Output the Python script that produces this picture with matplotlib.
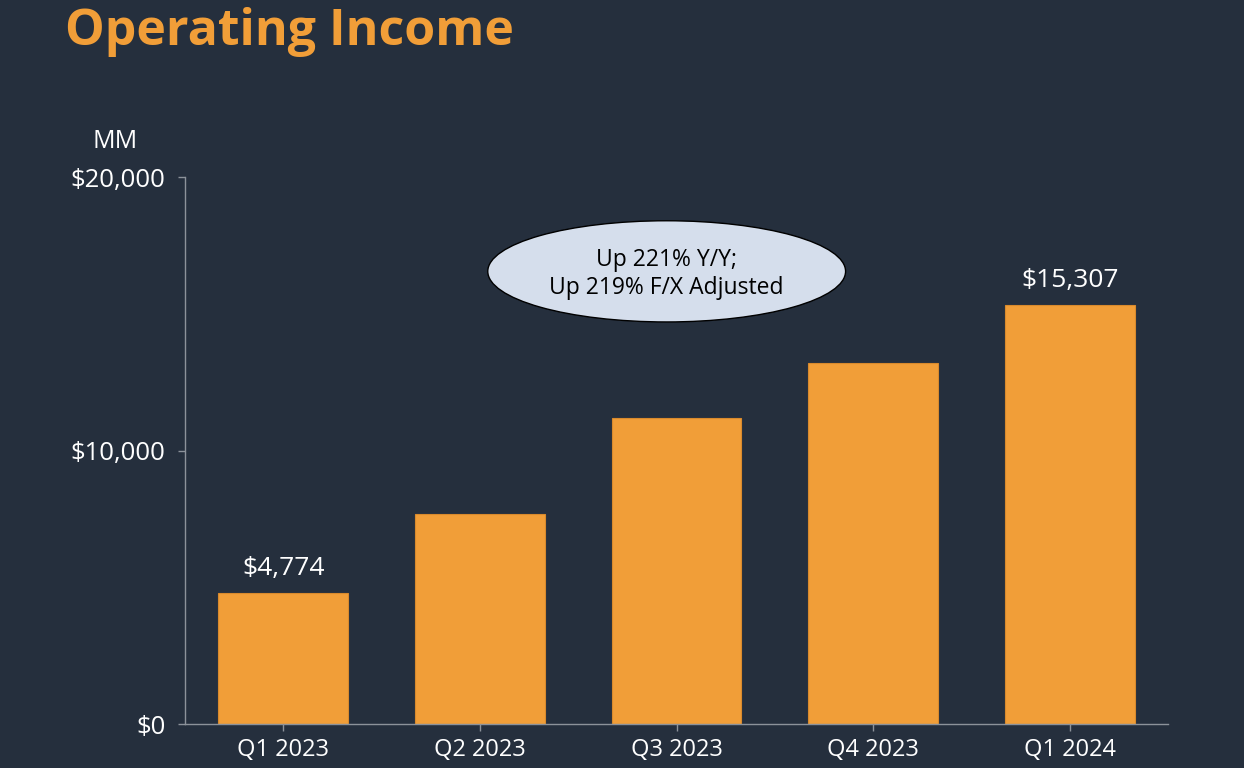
import matplotlib.pyplot as plt
from matplotlib.patches import Ellipse
from matplotlib.ticker import FuncFormatter

quarters = ["Q1 2023", "Q2 2023", "Q3 2023", "Q4 2023", "Q1 2024"]
op_income = [4774, 7681, 11188, 13209, 15307]
labelled = {0: "$4,774", 4: "$15,307"}
y_ticks = [0, 10000, 20000]

BG = "#252F3D"
ORANGE = "#F19E38"
AXIS = "#8C929A"
FONT = ["Open Sans", "DejaVu Sans"]

plt.rcParams["font.family"] = FONT

fig = plt.figure(figsize=(12.44, 7.68), dpi=100, facecolor=BG)
ax = fig.add_axes([185 / 1244, 1 - 724 / 768, (1168 - 185) / 1244, (724 - 177) / 768])
ax.set_facecolor(BG)

x = range(len(quarters))
ax.bar(x, op_income, width=0.66, color=ORANGE, edgecolor="#D98A2C", linewidth=0.8, zorder=2)

ax.set_xlim(-0.5, 4.5)
ax.set_ylim(0, 20000)
ax.set_xticks(list(x))
ax.set_xticklabels(quarters)
ax.set_yticks(y_ticks)
ax.yaxis.set_major_formatter(FuncFormatter(lambda v, p: f"${v:,.0f}"))
ax.tick_params(colors=AXIS, labelcolor="white", length=5, width=1)
ax.tick_params(axis="x", labelsize=17, pad=5)
ax.tick_params(axis="y", labelsize=18.5, pad=9)

for s in ["top", "right"]:
    ax.spines[s].set_visible(False)
for s in ["left", "bottom"]:
    ax.spines[s].set_color(AXIS)
    ax.spines[s].set_linewidth(1)

# value labels on first and last bars
for i, txt in labelled.items():
    ax.text(i, op_income[i] + 450, txt, ha="center", va="bottom",
            color="white", fontsize=19)

# callout ellipse
ell = Ellipse((2 - 0.05, 16550), width=1.82, height=3700,
              facecolor="#D5DEEC", edgecolor="black", linewidth=1, zorder=3)
ax.add_patch(ell)
ax.text(2 - 0.05, 16450, "Up 221% Y/Y;\nUp 219% F/X Adjusted", ha="center", va="center",
        color="black", fontsize=16.5, linespacing=1.2, zorder=4)

fig.text(115 / 1244, 1 - 141 / 768, "MM", ha="center", va="center",
         color="white", fontsize=18)
fig.text(65 / 1244, 1 - 32 / 768, "Operating Income", ha="left", va="center",
         color=ORANGE, fontsize=36, fontweight="bold")

plt.savefig("out.png", dpi=100, facecolor=BG)
plt.close()
